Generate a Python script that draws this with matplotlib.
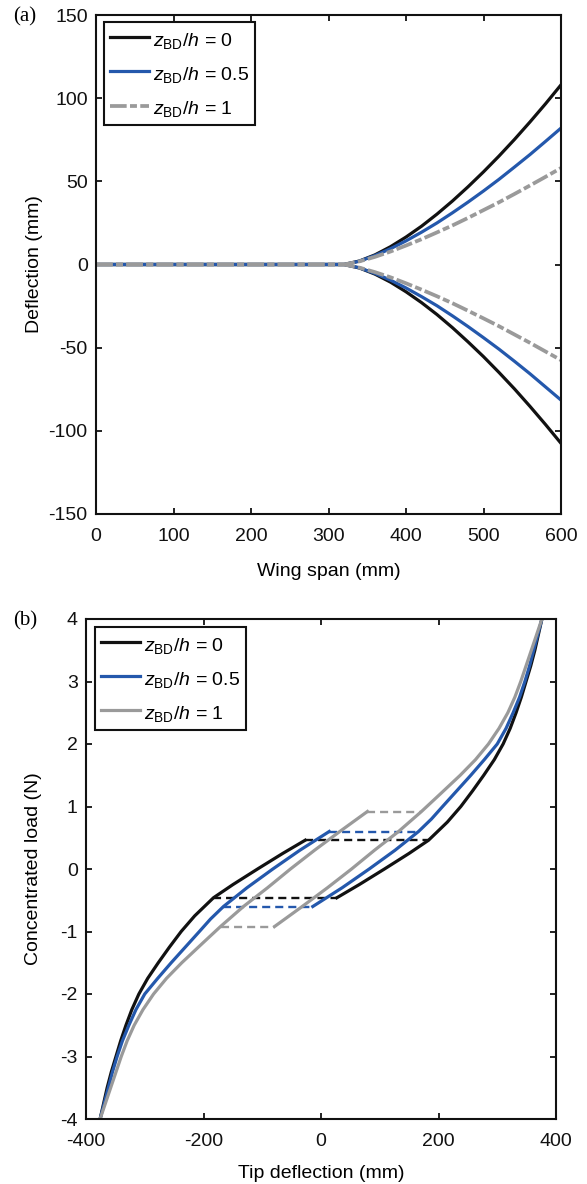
import matplotlib
matplotlib.use("Agg")
import matplotlib.pyplot as plt

plt.rcParams['font.family'] = ['Liberation Sans', 'DejaVu Sans']
plt.rcParams['mathtext.fontset'] = 'custom'
plt.rcParams['mathtext.rm'] = 'Liberation Sans'
plt.rcParams['mathtext.it'] = 'Liberation Sans:italic'
plt.rcParams['mathtext.bf'] = 'Liberation Sans:bold'
plt.rcParams['lines.scale_dashes'] = False
plt.rcParams['axes.unicode_minus'] = False

# ---------------- (a) deflection along the wing span ----------------
span_mm = [0, 100, 200, 300, 320, 340, 360, 380, 400, 420, 440, 460, 480,
           500, 520, 540, 560, 580, 600]
defl_up_0 = [0, 0, 0, 0, 0, 2.1, 5.8, 10.7, 16.5, 23.0, 30.3, 38.2, 46.7,
             55.7, 65.2, 75.2, 85.7, 96.6, 108.0]
defl_dn_0 = [0, 0, 0, 0, 0, -2.1, -5.8, -10.6, -16.4, -22.9, -30.1, -38.0, -46.5,
             -55.4, -64.9, -74.8, -85.3, -96.2, -107.5]
defl_up_05 = [0, 0, 0, 0, 0, 2.0, 5.4, 9.5, 14.2, 19.4, 25.0, 31.1, 37.5,
              44.2, 51.2, 58.6, 66.1, 74.0, 82.0]
defl_dn_05 = [0, 0, 0, 0, 0, -2.0, -5.4, -9.4, -14.1, -19.3, -24.8, -30.9, -37.3,
              -44.0, -50.9, -58.2, -65.7, -73.6, -81.5]
defl_up_1 = [0, 0, 0, 0, 0, 1.9, 4.6, 7.8, 11.4, 15.2, 19.3, 23.5, 28.0,
             32.7, 37.4, 42.4, 47.5, 52.7, 58.0]
defl_dn_1 = [0, 0, 0, 0, 0, -1.9, -4.6, -7.7, -11.3, -15.1, -19.1, -23.3, -27.8,
             -32.4, -37.1, -42.1, -47.1, -52.3, -57.5]

# ---------------- (b) load vs tip deflection ----------------
# z_BD/h = 0
tip_l_0 = [-376, -370, -364, -357, -349, -341, -332, -322, -310, -295, -277,
           -258, -238, -215, -183, -150, -108, -65, -27]
load_l_0 = [-4.0, -3.75, -3.5, -3.25, -3.0, -2.75, -2.5, -2.25, -2.0, -1.75, -1.5,
            -1.25, -1.0, -0.75, -0.46, -0.25, 0.0, 0.25, 0.46]
tip_r_0 = [27, 65, 108, 150, 183, 215, 238, 258, 277, 295, 310, 322, 332, 341,
           349, 357, 364, 370, 376]
load_r_0 = [-0.46, -0.25, 0.0, 0.25, 0.46, 0.75, 1.0, 1.25, 1.5, 1.75, 2.0,
            2.25, 2.5, 2.75, 3.0, 3.25, 3.5, 3.75, 4.0]
snap_up_0 = [-27, 183]
snap_dn_0 = [-183, 27]
snap_load_0 = 0.46

# z_BD/h = 0.5
tip_l_05 = [-376, -369, -362, -355, -347, -338, -327, -315, -300, -278, -255,
            -231, -207, -188, -166, -126, -82, -36, 14]
load_l_05 = [-4.0, -3.75, -3.5, -3.25, -3.0, -2.75, -2.5, -2.25, -2.0, -1.75, -1.5,
             -1.25, -1.0, -0.8, -0.60, -0.30, 0.0, 0.30, 0.60]
tip_r_05 = [-14, 36, 82, 126, 166, 188, 207, 231, 255, 278, 300, 315, 327, 338,
            347, 355, 362, 369, 376]
load_r_05 = [-0.60, -0.30, 0.0, 0.30, 0.60, 0.8, 1.0, 1.25, 1.5, 1.75, 2.0,
             2.25, 2.5, 2.75, 3.0, 3.25, 3.5, 3.75, 4.0]
snap_up_05 = [14, 166]
snap_dn_05 = [-166, -14]
snap_load_05 = 0.60

# z_BD/h = 1
tip_l_1 = [-376, -367, -358, -349, -340, -330, -318, -303, -285, -263, -237,
           -203, -171, -132, -91, -52, -11, 32, 79]
load_l_1 = [-4.0, -3.75, -3.5, -3.25, -3.0, -2.75, -2.5, -2.25, -2.0, -1.75, -1.5,
            -1.2, -0.92, -0.60, -0.30, 0.0, 0.30, 0.60, 0.92]
tip_r_1 = [-79, -32, 11, 52, 91, 132, 171, 203, 237, 263, 285, 303, 318, 330,
           340, 349, 358, 367, 376]
load_r_1 = [-0.92, -0.60, -0.30, 0.0, 0.30, 0.60, 0.92, 1.2, 1.5, 1.75, 2.0,
            2.25, 2.5, 2.75, 3.0, 3.25, 3.5, 3.75, 4.0]
snap_up_1 = [79, 171]
snap_dn_1 = [-171, -79]
snap_load_1 = 0.92

labels = [r'$z_{\mathrm{BD}}/h$ = 0', r'$z_{\mathrm{BD}}/h$ = 0.5', r'$z_{\mathrm{BD}}/h$ = 1']
c_black = '#111111'
c_blue = '#2458ac'
c_gray = '#9a9a9a'

FS = 14
LW = 2.3
W, H = 587, 1184

fig = plt.figure(figsize=(W / 100, H / 100), dpi=100)


def px_axes(l, r, t, b):
    return fig.add_axes([l / W, 1 - b / H, (r - l) / W, (b - t) / H])


def style_axes(ax):
    for s in ax.spines.values():
        s.set_linewidth(1.5)
        s.set_color('#111111')
    ax.tick_params(direction='in', top=True, right=True, length=4, width=1.3,
                   labelsize=FS, colors='#111111', pad=6)
    ax.tick_params(axis='x', pad=10)


def add_legend(ax, anchor):
    leg = ax.legend(loc='upper left', bbox_to_anchor=anchor, borderaxespad=0,
                    fontsize=FS, handlelength=2.0, handleheight=1.35,
                    handletextpad=0.2, labelspacing=0.6, borderpad=0.32,
                    fancybox=False, framealpha=1, edgecolor='#111111')
    leg.get_frame().set_linewidth(1.5)
    return leg


# ---- panel (a)
ax1 = px_axes(96, 561, 15, 514)
ax1.plot(span_mm, defl_up_0, color=c_black, lw=LW, label=labels[0])
ax1.plot(span_mm, defl_dn_0, color=c_black, lw=LW)
ax1.plot(span_mm, defl_up_05, color=c_blue, lw=LW, label=labels[1])
ax1.plot(span_mm, defl_dn_05, color=c_blue, lw=LW)
dashdot = (0, (12.0, 2.4, 5.0, 2.4))
ax1.plot(span_mm, defl_up_1, color=c_gray, lw=LW + 0.4, linestyle=dashdot, label=labels[2])
ax1.plot(span_mm, defl_dn_1, color=c_gray, lw=LW + 0.4, linestyle=dashdot)
ax1.set_xlim(0, 600)
ax1.set_ylim(-150, 150)
ax1.set_xticks(range(0, 601, 100))
ax1.set_yticks(range(-150, 151, 50))
style_axes(ax1)
ax1.set_xlabel('Wing span (mm)', fontsize=FS)
ax1.set_ylabel('Deflection (mm)', fontsize=FS)
ax1.xaxis.set_label_coords(0.5, -0.099)
ax1.yaxis.set_label_coords(-0.114, 0.5)
add_legend(ax1, (0.017, 0.985))

# ---- panel (b)
ax2 = px_axes(86, 556, 619, 1119)
DASH = (0, (5.8, 3.6))
branches = [
    (tip_l_0, load_l_0, tip_r_0, load_r_0, snap_up_0, snap_dn_0, snap_load_0, c_black),
    (tip_l_05, load_l_05, tip_r_05, load_r_05, snap_up_05, snap_dn_05, snap_load_05, c_blue),
    (tip_l_1, load_l_1, tip_r_1, load_r_1, snap_up_1, snap_dn_1, snap_load_1, c_gray),
]
for i, (xl, yl, xr, yr, su, sd, sl, col) in enumerate(branches):
    ax2.plot(xl, yl, color=col, lw=LW, label=labels[i], solid_joinstyle='round')
    ax2.plot(xr, yr, color=col, lw=LW, solid_joinstyle='round')
    ax2.plot(su, [sl, sl], color=col, lw=1.7, linestyle=DASH)
    ax2.plot(sd, [-sl, -sl], color=col, lw=1.7, linestyle=DASH)
ax2.set_xlim(-400, 400)
ax2.set_ylim(-4, 4)
ax2.set_xticks(range(-400, 401, 200))
ax2.set_yticks(range(-4, 5, 1))
style_axes(ax2)
ax2.set_xlabel('Tip deflection (mm)', fontsize=FS)
ax2.set_ylabel('Concentrated load (N)', fontsize=FS)
ax2.xaxis.set_label_coords(0.5, -0.091)
ax2.yaxis.set_label_coords(-0.094, 0.5)
add_legend(ax2, (0.019, 0.984))

fig.text(25 / W, 1 - 17 / H, '(a)', fontsize=15, family='Liberation Serif',
         ha='center', va='center')
fig.text(25 / W, 1 - 621 / H, '(b)', fontsize=15, family='Liberation Serif',
         ha='center', va='center')

fig.savefig('out.png', dpi=100)
